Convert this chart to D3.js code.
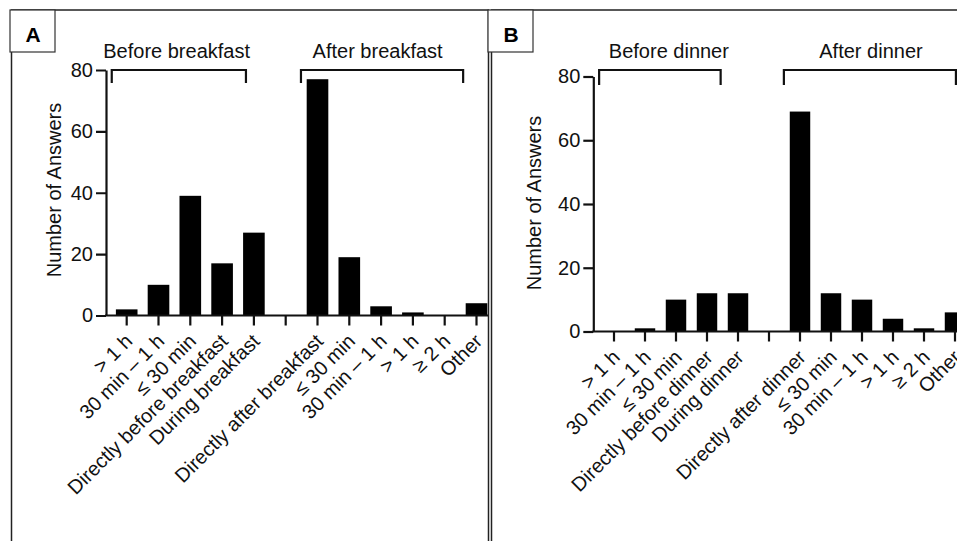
<!DOCTYPE html>
<html>
<head>
<meta charset="utf-8">
<script src="https://cdn.jsdelivr.net/npm/d3@7"></script>
<style>
  html, body { margin: 0; padding: 0; background: #fff; }
  svg { display: block; font-family: "Liberation Sans", Arial, Helvetica, sans-serif; }
</style>
</head>
<body>
<svg id="chart" width="957" height="541"></svg>
<script>
// Timing of answers relative to breakfast (A) and dinner (B)
const categoriesA = ["> 1 h", "30 min \u2013 1 h", "\u2264 30 min", "Directly before breakfast", "During breakfast", "",
                     "Directly after breakfast", "\u2264 30 min", "30 min \u2013 1 h", "> 1 h", "\u2265 2 h", "Other"];
const valuesA = [2, 10, 39, 17, 27, 0, 77, 19, 3, 1, 0, 4];
const groupLabelsA = ["Before breakfast", "After breakfast"];

const categoriesB = ["> 1 h", "30 min \u2013 1 h", "\u2264 30 min", "Directly before dinner", "During dinner", "",
                     "Directly after dinner", "\u2264 30 min", "30 min \u2013 1 h", "> 1 h", "\u2265 2 h", "Other"];
const valuesB = [0, 1, 10, 12, 12, 0, 69, 12, 10, 4, 1, 6];
const groupLabelsB = ["Before dinner", "After dinner"];

const yTicks = [0, 20, 40, 60, 80];
const yLabel = "Number of Answers";

const W = 957, H = 541;
const FONT = 20;
const INK = "#111";

const svg = d3.select("#chart");

// Layout of each panel (pixel geometry, bracket spans in category steps)
const panels = [
  {
    tag: "A", categories: categoriesA, values: valuesA, groupLabels: groupLabelsA,
    frameL: 11.5, frameR: 488.5, boxX: 10,
    axisX: 106, y0: 315.5, y80: 70, step: 31.8, firstOffset: 20.7, pad: 0.32,
    spans: [[-0.47, 3.75], [5.48, 10.58]], labelAt: [1.57, 7.89],
    bracketTop: 70, bracketLeg: 13, yLabelPos: [61, 190]
  },
  {
    tag: "B", categories: categoriesB, values: valuesB, groupLabels: groupLabelsB,
    frameL: 491.5, frameR: 960, boxX: 488,
    axisX: 593.3, y0: 331.5, y80: 76.5, step: 31.0, firstOffset: 20.7, pad: 0.34,
    spans: [[-0.48, 3.44], [5.48, 11.03]], labelAt: [1.77, 8.29],
    bracketTop: 70, bracketLeg: 15, yLabelPos: [541, 203]
  }
];

panels.forEach((p, k) => {
  const clipId = "clip" + p.tag;
  svg.append("clipPath").attr("id", clipId)
    .append("rect").attr("x", p.frameL).attr("y", 0)
    .attr("width", p.frameR - p.frameL).attr("height", H);

  const g = svg.append("g").attr("clip-path", `url(#${clipId})`);

  // scales
  const n = p.categories.length;
  const po = p.firstOffset / p.step - (1 - p.pad) / 2;
  const x = d3.scaleBand()
    .domain(d3.range(n))
    .range([p.axisX, p.axisX + p.step * (n - p.pad + 2 * po)])
    .paddingInner(p.pad)
    .paddingOuter(po);
  const y = d3.scaleLinear().domain([0, 80]).range([p.y0, p.y80]);
  const cx = i => x(0) + x.bandwidth() / 2 + i * x.step();

  // bars
  g.append("g").selectAll("rect")
    .data(p.values.map((v, i) => ({ v, i })).filter(d => d.v > 0))
    .join("rect")
    .attr("x", d => x(d.i))
    .attr("width", x.bandwidth())
    .attr("y", d => y(d.v))
    .attr("height", d => y(0) - y(d.v))
    .attr("fill", "#000");

  // y axis
  const yAxis = g.append("g")
    .attr("transform", `translate(${p.axisX},0)`)
    .call(d3.axisLeft(y).tickValues(yTicks).tickSize(10).tickSizeOuter(0).tickPadding(3));
  yAxis.selectAll("path, line").attr("stroke", INK).attr("stroke-width", 2.2);
  yAxis.selectAll("text").attr("font-size", FONT).attr("fill", INK).attr("font-family", null);

  // x axis
  const xAxis = g.append("g")
    .attr("transform", `translate(0,${p.y0})`)
    .call(d3.axisBottom(x).tickSize(10).tickSizeOuter(0).tickFormat(i => p.categories[i]));
  xAxis.select("path").attr("d", `M${p.axisX - 1},0H${x.range()[1]}`);
  xAxis.selectAll("path, line").attr("stroke", INK).attr("stroke-width", 2.2);
  xAxis.selectAll("text")
    .attr("font-size", FONT).attr("fill", INK).attr("font-family", null)
    .attr("text-anchor", "end")
    .attr("dy", null).attr("y", null)
    .attr("transform", "translate(7,27) rotate(-45)");

  // group brackets
  p.spans.forEach((s, j) => {
    const x1 = cx(s[0]), x2 = cx(s[1]);
    const t = p.bracketTop, b = t + p.bracketLeg;
    g.append("path")
      .attr("d", `M${x1},${b}V${t}H${x2}V${b}`)
      .attr("fill", "none").attr("stroke", INK).attr("stroke-width", 2.2);
    g.append("text")
      .attr("x", cx(p.labelAt[j])).attr("y", 58)
      .attr("text-anchor", "middle").attr("font-size", FONT).attr("fill", INK)
      .text(p.groupLabels[j]);
  });

  // y axis title
  g.append("text")
    .attr("transform", `translate(${p.yLabelPos[0]},${p.yLabelPos[1]}) rotate(-90)`)
    .attr("text-anchor", "middle").attr("font-size", FONT).attr("fill", INK)
    .text(yLabel);

  // panel frame
  svg.append("path")
    .attr("d", `M${p.frameL},${H + 2}V10H${Math.min(p.frameR, W + 2)}` + (p.frameR < W ? `V${H + 2}` : ""))
    .attr("fill", "none").attr("stroke", "#222").attr("stroke-width", 1.5);

  // panel tag box
  svg.append("rect")
    .attr("x", p.boxX).attr("y", 10).attr("width", 45).attr("height", 42)
    .attr("fill", "#fff").attr("stroke", "#333").attr("stroke-width", 1.2);
  svg.append("text")
    .attr("x", p.boxX + 23).attr("y", 42)
    .attr("text-anchor", "middle").attr("font-size", 21).attr("font-weight", "bold")
    .attr("fill", "#000")
    .text(p.tag);
});
</script>
</body>
</html>
